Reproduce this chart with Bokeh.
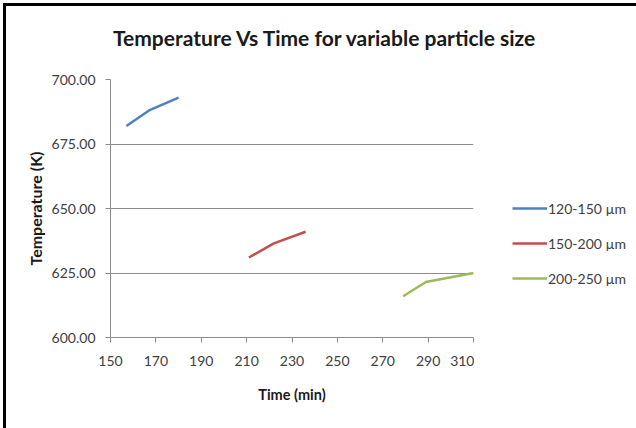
from bokeh.plotting import figure
from bokeh.layouts import row, column
from bokeh.models import Legend, LegendItem, FixedTicker, Range1d, NumeralTickFormatter, Div
from bokeh.embed import file_html
from bokeh.resources import INLINE

# Data
title_text = "Temperature Vs Time for variable particle size"
series_names = ["120-150 µm", "150-200 µm", "200-250 µm"]
time_120_150 = [157, 167, 180]
temp_120_150 = [682.0, 688.0, 693.0]
time_150_200 = [211, 222, 236]
temp_150_200 = [631.0, 636.5, 641.0]
time_200_250 = [279, 289, 310]
temp_200_250 = [616.0, 621.5, 625.0]
colors = ["#4F81BD", "#C0504D", "#9BBB59"]
x_ticks = [150, 170, 190, 210, 230, 250, 270, 290, 310]
y_ticks = [600, 625, 650, 675, 700]

FONT = "Lato"
TITLE_H = 58
H = 363
MB_TOP = 5
MB_BOTTOM = 100

title_div = Div(text=('<div style="padding-left:102px;padding-top:14px;font-family:Lato;'
                      'font-size:21px;font-weight:bold;color:#1a1a1a;white-space:nowrap;'
                      'line-height:25px">' + title_text + '</div>'),
                width=630, height=TITLE_H)

p = figure(width=468, height=H, output_backend="svg", toolbar_location=None, title=None,
           x_range=Range1d(150, 310), y_range=Range1d(600, 700),
           min_border_left=104, min_border_right=1, min_border_top=MB_TOP, min_border_bottom=MB_BOTTOM)

p.outline_line_color = None
p.background_fill_color = "white"
p.border_fill_color = "white"

p.xgrid.grid_line_color = None
p.ygrid.grid_line_color = "#8c8c8c"
p.ygrid.grid_line_width = 1

p.xaxis.ticker = FixedTicker(ticks=x_ticks)
p.yaxis.ticker = FixedTicker(ticks=y_ticks)
p.yaxis.formatter = NumeralTickFormatter(format="0.00")

for ax in (p.xaxis, p.yaxis):
    ax.axis_line_color = "#8c8c8c"
    ax.major_tick_line_color = "#8c8c8c"
    ax.minor_tick_line_color = None
    ax.major_tick_in = 0
    ax.major_tick_out = 5
    ax.major_label_text_font = FONT
    ax.major_label_text_font_size = "14px"
    ax.major_label_text_color = "#404040"
    ax.axis_label_text_font = FONT
    ax.axis_label_text_font_style = "bold"
    ax.axis_label_text_color = "#1a1a1a"

p.xaxis.axis_label = "Time (min)"
p.yaxis.axis_label = "Temperature (K)"
p.xaxis.axis_label_text_font_size = "14.5px"
p.yaxis.axis_label_text_font_size = "16px"
p.xaxis.major_label_standoff = 13
p.xaxis.axis_label_standoff = 17
p.yaxis.major_label_standoff = 10
p.yaxis.axis_label_standoff = 4

p.line(time_120_150, temp_120_150, line_color=colors[0], line_width=2.5)
p.line(time_150_200, temp_150_200, line_color=colors[1], line_width=2.5)
p.line(time_200_250, temp_200_250, line_color=colors[2], line_width=2.5)

# Legend panel to the right of the plot area (same series, outside its visible range)
q = figure(width=630 - 468, height=H, output_backend="svg", toolbar_location=None, title=None,
           x_range=Range1d(0, 1), y_range=Range1d(0, 1),
           min_border_left=0, min_border_right=0, min_border_top=MB_TOP, min_border_bottom=MB_BOTTOM)
q.axis.visible = False
q.grid.visible = False
q.outline_line_color = None
q.border_fill_color = "white"
l1 = q.line(time_120_150, temp_120_150, line_color=colors[0], line_width=2.5)
l2 = q.line(time_150_200, temp_150_200, line_color=colors[1], line_width=2.5)
l3 = q.line(time_200_250, temp_200_250, line_color=colors[2], line_width=2.5)

legend = Legend(items=[LegendItem(label=series_names[0], renderers=[l1]),
                       LegendItem(label=series_names[1], renderers=[l2]),
                       LegendItem(label=series_names[2], renderers=[l3])],
                location=(38, 49), border_line_color=None, background_fill_alpha=0,
                label_text_font=FONT, label_text_font_size="14px", label_text_color="#404040",
                glyph_width=35, glyph_height=20, label_height=20,
                label_standoff=1, spacing=15, padding=0, margin=0)
q.add_layout(legend, "center")

layout = column(title_div, row(p, q, spacing=0), spacing=0)
layout.styles = {"margin-left": "6px", "margin-top": "6px",
                 "box-shadow": "-3px -3px 0 0 black, -3px 0 0 0 black, 0 1px 0 0 #b0b0b0"}

open("out.html", "w").write(file_html(layout, INLINE))
